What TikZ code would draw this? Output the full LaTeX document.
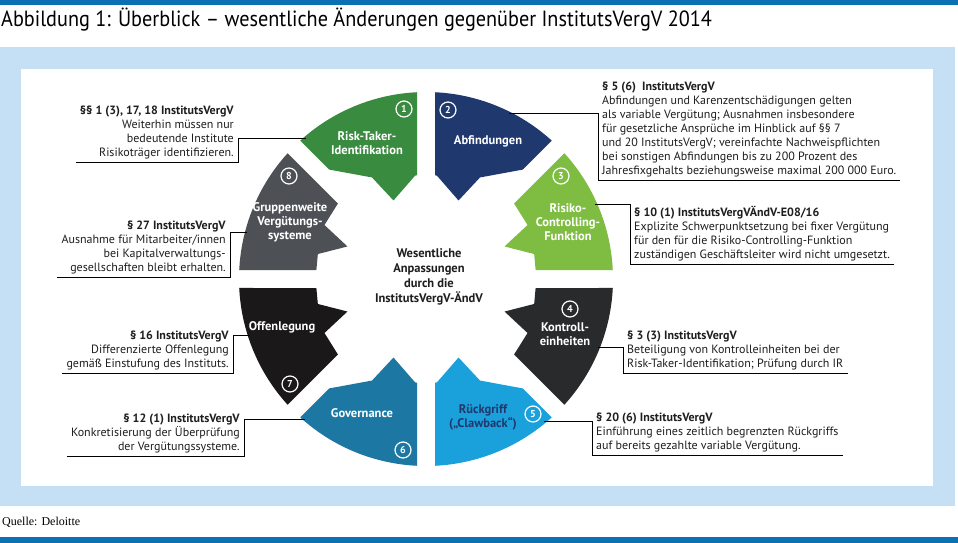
\documentclass[tikz,border=0pt]{standalone}
\usepackage{fontspec}
\setmainfont{PT Sans}
\newfontfamily\titlefont[FakeStretch=0.92]{PT Sans}
\newfontfamily\quellefont{Liberation Serif}
\usepackage{tikz}
\usetikzlibrary{positioning}
\usepackage{xcolor}

\definecolor{barblue}{RGB}{14,112,180}
\definecolor{panelblue}{RGB}{197,224,244}
\definecolor{segeins}{RGB}{57,139,63}
\definecolor{segzwei}{RGB}{31,56,110}
\definecolor{segdrei}{RGB}{126,189,65}
\definecolor{segvier}{RGB}{40,42,44}
\definecolor{segfuenf}{RGB}{26,160,219}
\definecolor{segsechs}{RGB}{28,120,163}
\definecolor{segsieben}{RGB}{26,24,24}
\definecolor{segacht}{RGB}{77,81,86}
\definecolor{notetext}{RGB}{30,30,30}

\begin{document}
\begin{tikzpicture}[x=1pt,y=1pt,
% Stile
segnum/.style={circle, draw=white, line width=1.2pt, text=white, inner sep=0pt, minimum size=16pt, font=\fontsize{10}{10}\selectfont\bfseries},
seglabel/.style={text=white, align=center, inner sep=0pt, font=\fontsize{12.5}{14}\selectfont\bfseries},
centertext/.style={text=notetext, align=center, inner sep=0pt, font=\fontsize{12.5}{15}\selectfont\bfseries},
leftnote/.style={align=right, anchor=south east, inner xsep=4pt, inner ysep=3pt, text=notetext, font=\fontsize{12}{14}\selectfont},
rightnote/.style={align=left, anchor=south west, inner xsep=4pt, inner ysep=3pt, text=notetext, font=\fontsize{12}{14}\selectfont},
leader/.style={line width=0.8pt, black},
]
% Rahmen
\useasboundingbox (0,0) rectangle (958,-543);
\fill[barblue] (0,0) rectangle (958,-5);
\fill[panelblue] (0,-47) rectangle (955,-506);
\fill[white] (21,-69) rectangle (933,-486);
\fill[barblue] (0,-537) rectangle (958,-543);

% Titel und Quelle
\node[anchor=west, inner sep=0pt, font=\titlefont\fontsize{22}{24}\selectfont] (titel) at (1,-20) {Abbildung 1: Überblick – wesentliche Änderungen gegenüber InstitutsVergV 2014};
\node[anchor=west, inner sep=0pt, font=\quellefont\fontsize{12}{14}\selectfont] (quelle) at (2,-522) {Quelle: Deloitte};

% Ring: acht Segmente mit Sprechblasen-Spitze
\begin{scope}[shift={(426,-279)}]
\foreach \n/\A/\s/\rA/\uB/\rB/\rD/\col in {
  1/90/1/104/6/104/146/segeins,
  2/90/-1/104/6/104/146/segzwei,
  3/0/1/110/13/111/116/segdrei,
  4/0/-1/110/13/111/116/segvier,
  5/-90/1/104/6/104/146/segfuenf,
  6/270/-1/104/6/104/146/segsechs,
  7/180/1/110/13/111/116/segsieben,
  8/180/-1/110/13/111/116/segacht}
{
\fill[\col] ({\A+(\s)*asin(9/187)}:187) -- ({\A+(\s)*asin(9/\rA)}:\rA)
  -- ({\A+(\s)*\uB}:\rB) -- ({\A+(\s)*22.5}:85) -- ({\A+(\s)*28}:115)
  -- ({\A+45*(\s)-(\s)*asin(9/\rD)}:\rD) -- ({\A+45*(\s)-(\s)*asin(9/187)}:187)
  arc[start angle={\A+45*(\s)-(\s)*asin(9/187)}, end angle={\A+(\s)*asin(9/187)}, radius=187] -- cycle;
}
% Andockpunkte der Linien
\coordinate (e1) at (130.5:185);
\coordinate (e2) at (63.5:185);
\coordinate (e3) at (23.9:185);
\coordinate (e4) at (-21.7:185);
\coordinate (e5) at (-50.5:185);
\coordinate (e6) at (229.3:185);
\coordinate (e7) at (197.6:185);
\coordinate (e8) at (165.3:185);
\end{scope}

% Nummern
\node[segnum] (n1) at (404,-109) {1};
\node[segnum] (n2) at (448,-110) {2};
\node[segnum] (n3) at (561,-176) {3};
\node[segnum] (n4) at (570,-309) {4};
\node[segnum] (n5) at (533,-414) {5};
\node[segnum] (n6) at (403,-450) {6};
\node[segnum] (n7) at (290,-384) {7};
\node[segnum] (n8) at (289,-176) {8};

% Segmenttexte
\node[seglabel] (s1) at (367,-143) {Risk-Taker-\\Identifikation};
\node[seglabel] (s2) at (488,-141) {Abfindungen};
\node[seglabel] (s3) at (568,-222) {Risiko-\\Controlling-\\Funktion};
\node[seglabel] (s4) at (565,-334) {Kontroll-\\einheiten};
\node[seglabel, text=segzwei] (s5) at (483,-417) {Rückgriff\\(„Clawback“)};
\node[seglabel] (s6) at (362,-413) {Governance};
\node[seglabel] (s7) at (282,-327) {Offenlegung};
\node[seglabel] (s8) at (290,-222) {Gruppenweite\\Vergütungs-\\systeme};
\node[centertext] (mitte) at (429,-277) {Wesentliche\\Anpassungen\\durch die\\InstitutsVergV-ÄndV};

% Erläuterungen links
\node[leftnote] (t1) at (238,-162) {\textbf{§§ 1 (3), 17, 18 InstitutsVergV}\\Weiterhin müssen nur\\bedeutende Institute\\Risikoträger identifizieren.};
\node[leftnote] (t8) at (230,-277) {\textbf{§ 27 InstitutsVergV}\\Ausnahme für Mitarbeiter/innen\\bei Kapitalverwaltungs-\\gesellschaften bleibt erhalten.};
\node[leftnote] (t7) at (233,-373) {\textbf{§ 16 InstitutsVergV}\\Differenzierte Offenlegung\\gemäß Einstufung des Instituts.};
\node[leftnote] (t6) at (244,-456) {\textbf{§ 12 (1) InstitutsVergV}\\Konkretisierung der Überprüfung\\der Vergütungssysteme.};

% Erläuterungen rechts
\node[rightnote] (t2) at (598,-180) {\textbf{§ 5 (6)~ InstitutsVergV}\\Abfindungen und Karenzentschädigungen gelten\\als variable Vergütung; Ausnahmen insbesondere\\für gesetzliche Ansprüche im Hinblick auf §§ 7\\und 20 InstitutsVergV; vereinfachte Nachweispflichten\\bei sonstigen Abfindungen bis zu 200 Prozent des\\Jahresfixgehalts beziehungsweise maximal 200 000 Euro.};
\node[rightnote] (t3) at (630,-264) {\textbf{§ 10 (1) InstitutsVergVÄndV-E08/16}\\Explizite Schwerpunktsetzung bei fixer Vergütung\\für den für die Risiko-Controlling-Funktion\\zuständigen Geschäftsleiter wird nicht umgesetzt.};
\node[rightnote] (t4) at (623,-373) {\textbf{§ 3 (3) InstitutsVergV}\\Beteiligung von Kontrolleinheiten bei der\\Risk-Taker-Identifikation; Prüfung durch IR};
\node[rightnote] (t5) at (592,-455) {\textbf{§ 20 (6) InstitutsVergV}\\Einführung eines zeitlich begrenzten Rückgriffs\\auf bereits gezahlte variable Vergütung.};

% Linien
\draw[leader] (t1.south west) -- (t1.south east) |- (e1);
\draw[leader] (t8.south west) -- (t8.south east) |- (e8);
\draw[leader] (t7.south west) -- (t7.south east) |- (e7);
\draw[leader] (t6.south west) -- (t6.south east) |- (e6);
\draw[leader] (t2.south east) -- (t2.south west) |- (e2);
\draw[leader] (t3.south east) -- (t3.south west) |- (e3);
\draw[leader] (t4.south east) -- (t4.south west) |- (e4);
\draw[leader] (t5.south east) -- (t5.south west) |- (e5);

\end{tikzpicture}
\end{document}
